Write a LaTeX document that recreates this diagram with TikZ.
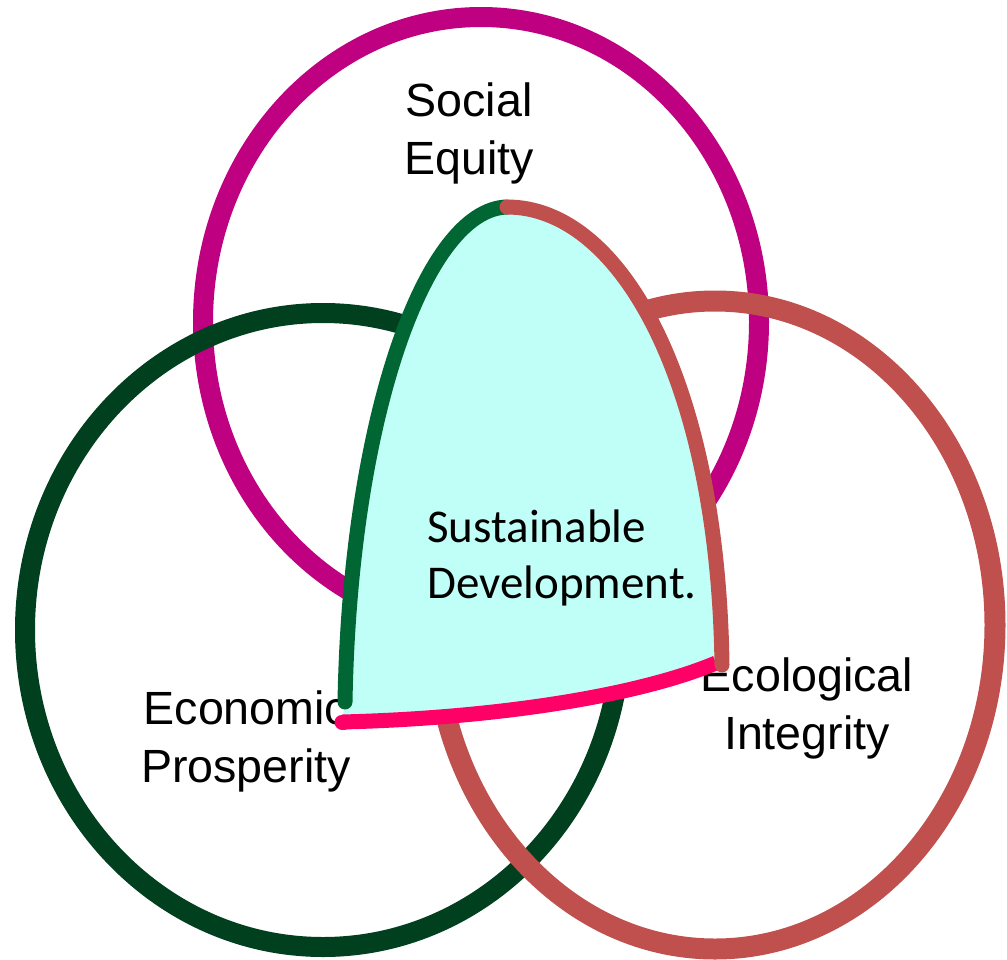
\documentclass[tikz,border=0pt]{standalone}
\usepackage{fontspec}
\setmainfont{Liberation Sans}
\newfontfamily\calfont{Carlito}
\definecolor{socialc}{RGB}{191,0,128}
\definecolor{econc}{RGB}{1,64,30}
\definecolor{ecoc}{RGB}{192,80,77}
\definecolor{edgegreen}{RGB}{0,102,51}
\definecolor{edgepink}{RGB}{255,0,102}
\definecolor{sdfill}{RGB}{191,255,247}
\tikzset{
  ring/.style={line width=10pt},
  sdedge/.style={line width=7.5pt},
  biglabel/.style={font=\fontsize{23.3}{29}\selectfont, align=center, inner sep=0pt, anchor=north},
  sdlabel/.style={font=\calfont\fontsize{23.5}{28}\selectfont, align=left, inner sep=0pt, anchor=north west}
}
\begin{document}
\begin{tikzpicture}[x=0.5pt,y=-0.5pt]
\useasboundingbox (0,0) rectangle (1007,959);
\fill[white] (0,0) rectangle (1007,959);
% three circles
\draw[ring, socialc] (481,322) ellipse [x radius=139pt, y radius=152.5pt];
\draw[ring, econc] (323,630) ellipse [x radius=149pt, y radius=158.5pt];
\draw[ring, ecoc, line width=10.5pt] (715,625) ellipse [x radius=140pt, y radius=162pt];
% labels
\node[biglabel] (social) at (469,82) {Social\\Equity};
\node[biglabel] (econ) at (246,690) {Economic\\Prosperity};
\node[biglabel] (eco) at (807,657) {Ecological\\Integrity};
% sustainable development region
\coordinate (bl) at (345,702);
\coordinate (top) at (507,207);
\coordinate (br) at (722,665);
\coordinate (pl) at (342,722);
\coordinate (pr) at (716,663);
\fill[sdfill] (pl) -- (bl) .. controls (350,420) and (425,209) .. (top)
  .. controls (620,207) and (718,380) .. (br) -- (722,667) -- (pr)
  .. controls (640,695) and (500,718) .. (pl) -- cycle;
\draw[sdedge, edgepink, line cap=butt] (pl) .. controls (500,718) and (640,695) .. (pr);
\draw[sdedge, edgepink, line cap=round] (pl) -- (344,722);
\draw[sdedge, edgegreen, line cap=round] (bl) .. controls (350,420) and (425,209) .. (top);
\draw[sdedge, ecoc, line cap=round] (top) .. controls (620,207) and (718,380) .. (br);
\node[sdlabel] (sd) at (427,509) {Sustainable\\Development.};
\end{tikzpicture}
\end{document}
